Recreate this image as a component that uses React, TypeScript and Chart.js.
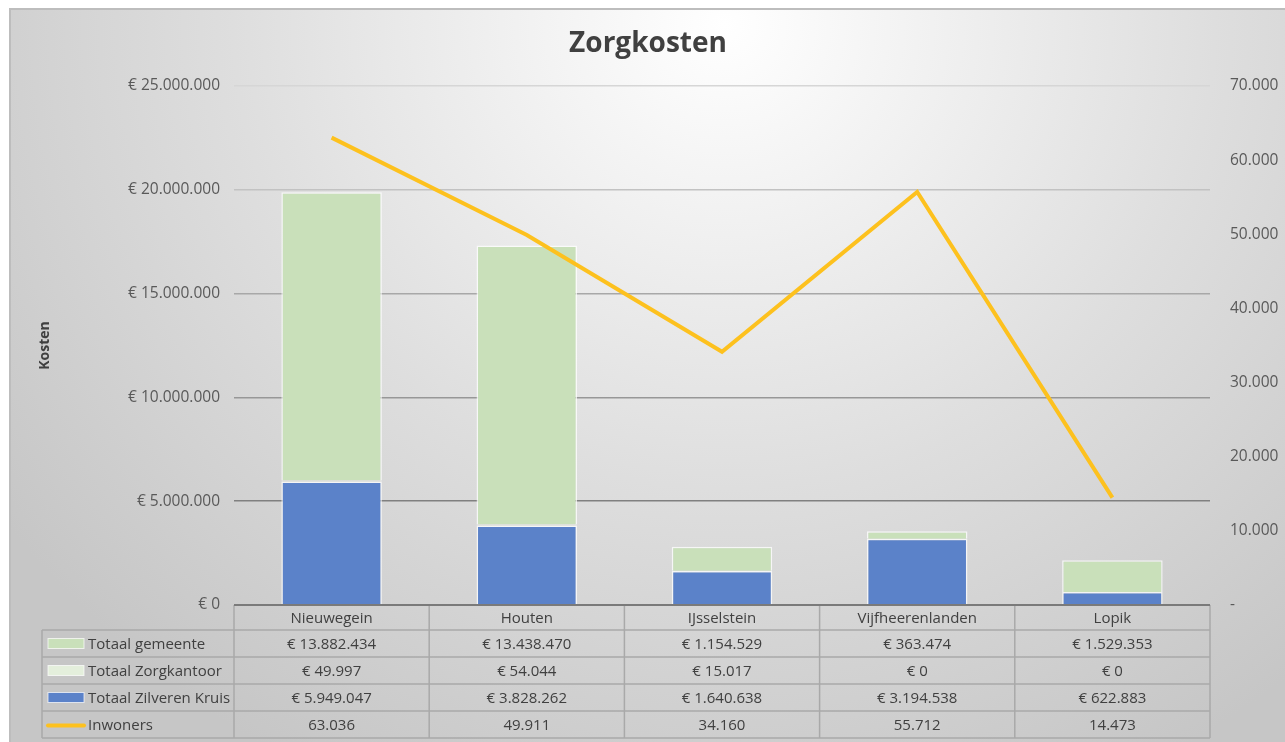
import React, { useEffect, useRef } from 'react';
import { Chart, registerables } from 'chart.js';

Chart.register(...registerables);

const categories = ['Nieuwegein', 'Houten', 'IJsselstein', 'Vijfheerenlanden', 'Lopik'];
const totaalGemeente = [13882434, 13438470, 1154529, 363474, 1529353];
const totaalZorgkantoor = [49997, 54044, 15017, 0, 0];
const totaalZilverenKruis = [5949047, 3828262, 1640638, 3194538, 622883];
const inwoners = [63036, 49911, 34160, 55712, 14473];

const leftMax = 25000000;
const leftStep = 5000000;
const rightMax = 70000;
const rightStep = 10000;

const COLOR_GEMEENTE = '#C9E0BA';
const COLOR_ZORGKANTOOR = '#E4EFDC';
const COLOR_ZILVEREN = '#5B82C9';
const COLOR_LINE = '#FDC11E';

const FONT = '"Open Sans", "Noto Sans", sans-serif';

function fmt(n: number): string {
  return Math.round(n).toString().replace(/\B(?=(\d{3})+(?!\d))/g, '.');
}
function euro(n: number): string {
  return '€ ' + fmt(n);
}

const gridColors: Record<number, string> = {
  25000000: '#d6d6d6',
  20000000: '#c2c2c2',
  15000000: '#a8a8a8',
  10000000: '#979797',
  5000000: '#808080',
};

const tableRows = [
  { label: 'Totaal gemeente', values: totaalGemeente.map(euro), kind: 'box', color: COLOR_GEMEENTE },
  { label: 'Totaal Zorgkantoor', values: totaalZorgkantoor.map(euro), kind: 'box', color: COLOR_ZORGKANTOOR },
  { label: 'Totaal Zilveren Kruis', values: totaalZilverenKruis.map(euro), kind: 'box', color: COLOR_ZILVEREN },
  { label: 'Inwoners', values: inwoners.map(fmt), kind: 'line', color: COLOR_LINE },
];

const tablePlugin = {
  id: 'dataTable',
  afterDraw(chart: any) {
    const ctx: CanvasRenderingContext2D = chart.ctx;
    const { left, right, bottom } = chart.chartArea;
    const xs = chart.scales.x;
    const n = categories.length;
    const colW = (right - left) / n;
    const headerH = 25;
    const rowH = 27;
    const legendLeft = 31;
    const yHeader = bottom + headerH;
    const yEnd = yHeader + rowH * tableRows.length;

    ctx.save();
    ctx.strokeStyle = '#a9a9a9';
    ctx.lineWidth = 1.5;
    ctx.beginPath();
    for (let r = 0; r <= tableRows.length; r++) {
      const y = yHeader + r * rowH;
      ctx.moveTo(legendLeft, y);
      ctx.lineTo(right, y);
    }
    for (let i = 0; i <= n; i++) {
      const x = i < n ? xs.getPixelForValue(i) - colW / 2 : xs.getPixelForValue(n - 1) + colW / 2;
      ctx.moveTo(x, bottom);
      ctx.lineTo(x, yEnd);
    }
    ctx.moveTo(legendLeft, yHeader);
    ctx.lineTo(legendLeft, yEnd);
    ctx.stroke();

    ctx.strokeStyle = '#7a7a7a';
    ctx.lineWidth = 2;
    ctx.beginPath();
    ctx.moveTo(left, bottom);
    ctx.lineTo(right, bottom);
    ctx.stroke();

    ctx.fillStyle = '#404040';
    ctx.font = '15px ' + FONT;
    ctx.textAlign = 'center';
    ctx.textBaseline = 'middle';
    categories.forEach((c, i) => {
      ctx.fillText(c, xs.getPixelForValue(i), bottom + headerH / 2 + 1);
    });
    tableRows.forEach((row, r) => {
      const cy = yHeader + r * rowH + rowH / 2 + 1;
      ctx.textAlign = 'center';
      ctx.fillStyle = '#404040';
      row.values.forEach((v, i) => {
        ctx.fillText(v, xs.getPixelForValue(i), cy);
      });
      if (row.kind === 'box') {
        ctx.fillStyle = row.color;
        ctx.fillRect(37, cy - 6, 36, 10);
        ctx.strokeStyle = 'rgba(255,255,255,0.7)';
        ctx.lineWidth = 1;
        ctx.strokeRect(37, cy - 6, 36, 10);
      } else {
        ctx.strokeStyle = row.color;
        ctx.lineWidth = 4;
        ctx.lineCap = 'round';
        ctx.beginPath();
        ctx.moveTo(37, cy);
        ctx.lineTo(73, cy);
        ctx.stroke();
      }
      ctx.fillStyle = '#404040';
      ctx.textAlign = 'left';
      ctx.fillText(row.label, 77, cy);
    });
    ctx.restore();
  },
};

export default function App() {
  const ref = useRef<HTMLCanvasElement | null>(null);

  useEffect(() => {
    if (!ref.current) return;
    const chart = new Chart(ref.current, {
      type: 'bar',
      data: {
        labels: categories,
        datasets: [
          {
            type: 'line',
            label: 'Inwoners',
            data: inwoners,
            yAxisID: 'y1',
            borderColor: COLOR_LINE,
            backgroundColor: COLOR_LINE,
            borderWidth: 4,
            pointRadius: 0,
            tension: 0,
            order: 0,
            borderJoinStyle: 'miter',
          } as any,
          {
            label: 'Totaal Zilveren Kruis',
            data: totaalZilverenKruis,
            backgroundColor: COLOR_ZILVEREN,
            borderColor: 'rgba(255,255,255,0.75)',
            borderWidth: 1.5,
            barPercentage: 0.515,
            categoryPercentage: 1,
            order: 1,
            yAxisID: 'y',
          },
          {
            label: 'Totaal Zorgkantoor',
            data: totaalZorgkantoor,
            backgroundColor: COLOR_ZORGKANTOOR,
            borderColor: 'rgba(255,255,255,0.75)',
            borderWidth: 1.5,
            barPercentage: 0.515,
            categoryPercentage: 1,
            order: 1,
            yAxisID: 'y',
          },
          {
            label: 'Totaal gemeente',
            data: totaalGemeente,
            backgroundColor: COLOR_GEMEENTE,
            borderColor: 'rgba(255,255,255,0.75)',
            borderWidth: 1.5,
            barPercentage: 0.515,
            categoryPercentage: 1,
            order: 1,
            yAxisID: 'y',
          },
        ],
      },
      options: {
        responsive: false,
        animation: false,
        layout: { padding: 0 },
        plugins: {
          legend: { display: false },
          tooltip: { enabled: false },
          title: {
            display: true,
            text: 'Zorgkosten',
            color: '#404040',
            font: { family: FONT, size: 28, weight: 'bold', lineHeight: 1.2 },
            padding: { top: 17.2, bottom: 25.2 },
          },
        },
        scales: {
          x: {
            stacked: true,
            grid: { display: false },
            border: { display: false },
            ticks: { display: false },
            afterFit(scale: any) {
              scale.height = 137;
            },
          },
          y: {
            stacked: true,
            position: 'left',
            min: 0,
            max: leftMax,
            border: { display: false },
            grid: {
              drawTicks: false,
              lineWidth: 1.5,
              color: (c: any) => (c.tick && gridColors[c.tick.value]) || 'rgba(0,0,0,0)',
            },
            ticks: {
              stepSize: leftStep,
              padding: 14,
              color: '#595959',
              font: { family: FONT, size: 15.5 },
              callback: (v: any) => euro(Number(v)),
            },
            title: {
              display: true,
              text: 'Kosten',
              color: '#404040',
              font: { family: FONT, size: 14, weight: 'bold', lineHeight: 1.2 },
              padding: { top: 25.6, bottom: 0 },
            },
            afterFit(scale: any) {
              scale.width = 223;
            },
          },
          y1: {
            position: 'right',
            min: 0,
            max: rightMax,
            border: { display: false },
            grid: { drawOnChartArea: false, drawTicks: false },
            ticks: {
              stepSize: rightStep,
              padding: 20,
              color: '#595959',
              font: { family: FONT, size: 15.5 },
              callback: (v: any) => (Number(v) === 0 ? '-' : fmt(Number(v))),
            },
            afterFit(scale: any) {
              scale.width = 75;
            },
          },
        },
      },
      plugins: [tablePlugin],
    });
    return () => chart.destroy();
  }, []);

  return (
    <div style={{ position: 'fixed', left: 0, top: 0, width: 1285, height: 742, background: '#ffffff', overflow: 'hidden' }}>
      <div
        style={{
          position: 'absolute',
          left: 9,
          top: 8,
          width: 1276,
          height: 734,
          boxSizing: 'border-box',
          borderTop: '2px solid #bdbdbd',
          borderLeft: '2px solid #bdbdbd',
          background:
            'radial-gradient(ellipse 70% 115% at 56% 2%, #ffffff 0%, #f0f0f0 25%, #dedede 55%, #c6c6c6 100%)',
        }}
      >
        <canvas ref={ref} width={1274} height={732} style={{ display: 'block', width: 1274, height: 732 }} />
      </div>
    </div>
  );
}
